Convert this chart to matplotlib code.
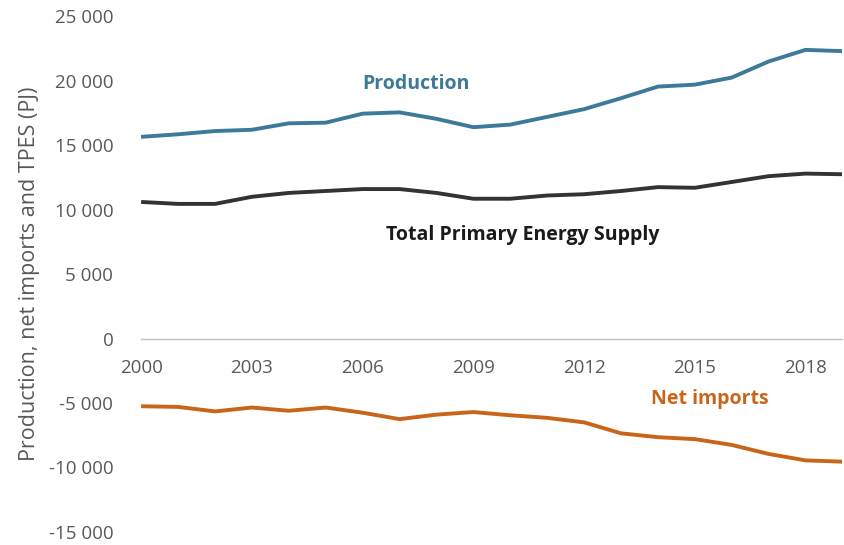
import matplotlib.pyplot as plt
from matplotlib.ticker import FuncFormatter

# values (PJ)
years = list(range(2000, 2020))
production = [15650, 15850, 16100, 16200, 16700, 16750, 17450, 17550, 17050, 16400,
              16600, 17200, 17800, 18650, 19550, 19700, 20250, 21500, 22400, 22300]
tpes = [10600, 10450, 10450, 11000, 11300, 11450, 11600, 11600, 11300, 10850,
        10850, 11100, 11200, 11450, 11750, 11700, 12150, 12600, 12800, 12750]
net_imports = [-5250, -5300, -5650, -5350, -5600, -5350, -5750, -6250, -5900, -5700,
               -5950, -6150, -6500, -7350, -7650, -7800, -8250, -8950, -9450, -9550]

x_ticks = [2000, 2003, 2006, 2009, 2012, 2015, 2018]
y_ticks = list(range(-15000, 25001, 5000))

C_PROD = "#3d7a99"
C_TPES = "#333333"
C_IMP = "#c8651b"
GREY = "#595959"

plt.rcParams["font.family"] = ["Open Sans", "DejaVu Sans"]

fig = plt.figure(figsize=(8.45, 5.45), dpi=100)
ax = fig.add_axes([0.167, 0.024, 0.83, 0.946])

ax.plot(years, production, color=C_PROD, lw=2.8, solid_capstyle="butt")
ax.plot(years, tpes, color=C_TPES, lw=2.8, solid_capstyle="butt")
ax.plot(years, net_imports, color=C_IMP, lw=2.8, solid_capstyle="butt")

ax.text(2007.45, 19750, "Production", color=C_PROD, fontsize=14, fontweight="bold",
        ha="center", va="center")
ax.text(2010.35, 8000, "Total Primary Energy Supply", color="#1a1a1a", fontsize=14,
        fontweight="bold", ha="center", va="center")
ax.text(2015.4, -4650, "Net imports", color=C_IMP, fontsize=14, fontweight="bold",
        ha="center", va="center")

ax.set_xlim(2000, 2019)
ax.set_ylim(-15000, 25000)
ax.set_xticks(x_ticks)
ax.set_yticks(y_ticks)
ax.yaxis.set_major_formatter(FuncFormatter(lambda v, p: f"{int(v):,}".replace(",", " ")))

for s in ["top", "right", "left"]:
    ax.spines[s].set_visible(False)
ax.spines["bottom"].set_position(("data", 0))
ax.spines["bottom"].set_color("#bfbfbf")
ax.spines["bottom"].set_linewidth(1.0)

ax.tick_params(axis="x", length=0, pad=15, labelsize=13.5, labelcolor=GREY)
ax.tick_params(axis="y", length=0, pad=20, labelsize=13.5, labelcolor=GREY)
ax.set_ylabel("Production, net imports and TPES (PJ)", fontsize=15.5, color=GREY, labelpad=6)

fig.savefig("out.png", dpi=100)
